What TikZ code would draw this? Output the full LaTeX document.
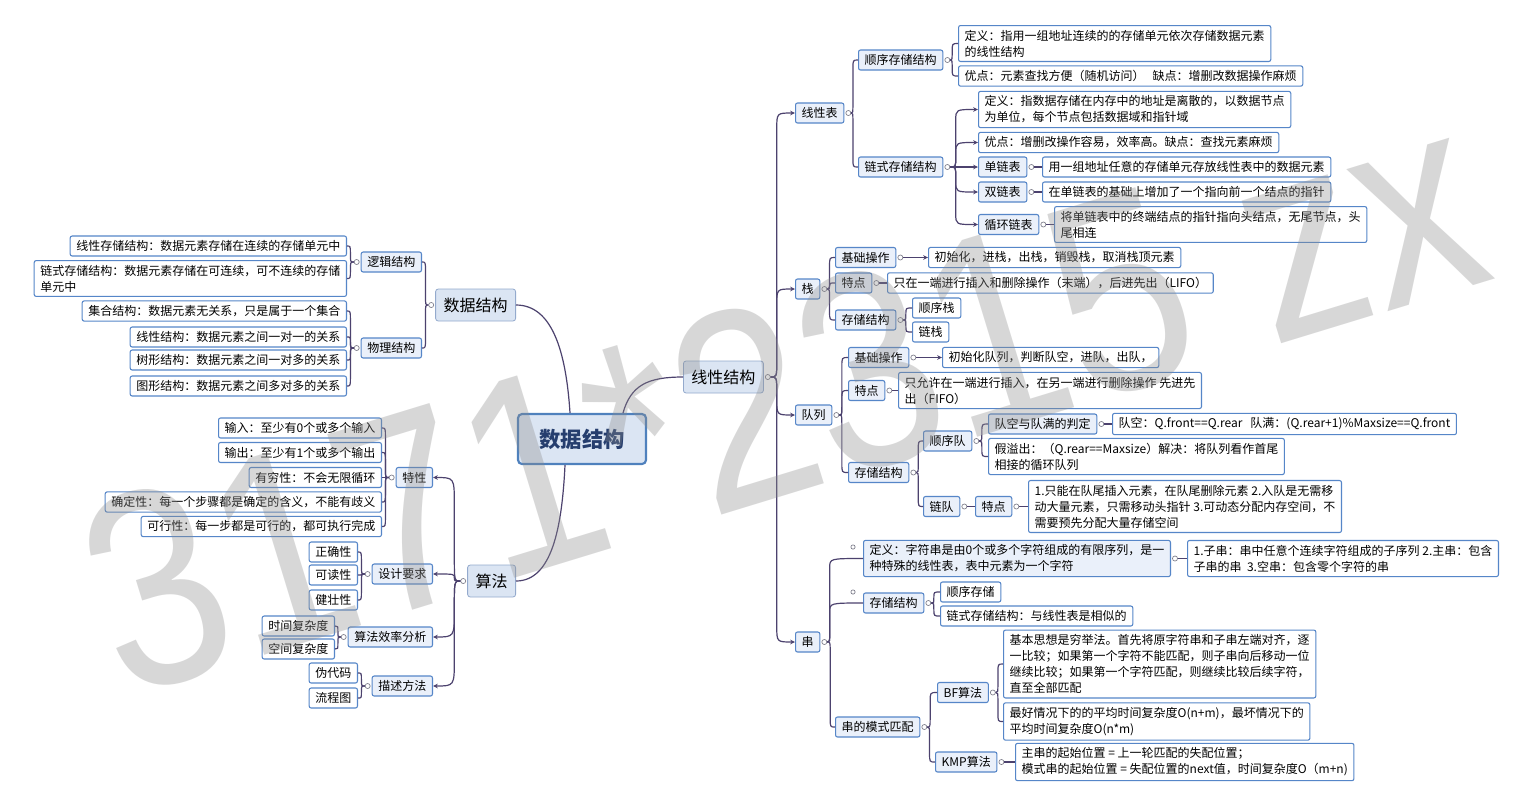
\documentclass[tikz,border=0pt]{standalone}
\usepackage{fontspec}
\setmainfont{Noto Sans CJK SC}
\newfontfamily\wmfont{Liberation Sans}
\usepackage{xcolor}
\usepackage{tikz}
\usetikzlibrary{arrows.meta,calc,positioning}

\definecolor{linecol}{RGB}{76,66,110}
\definecolor{boxline}{RGB}{86,134,200}
\definecolor{subfill}{RGB}{234,240,250}
\definecolor{majfill}{RGB}{219,229,243}
\definecolor{majline}{RGB}{148,170,205}
\definecolor{rootline}{RGB}{79,129,189}
\definecolor{roottext}{RGB}{38,62,110}
\definecolor{dotline}{RGB}{125,125,138}

\tikzset{
  root/.style={draw=rootline, line width=1.6pt, fill=majfill, rounded corners=3pt,
    text=roottext, font=\fontsize{16}{19}\selectfont\bfseries,
    minimum width=96pt, minimum height=37.5pt},
  major/.style={draw=majline, line width=0.6pt, fill=majfill, rounded corners=2pt,
    font=\fontsize{12}{14}\selectfont, inner xsep=6pt, minimum height=24pt},
  topic/.style={draw=boxline, line width=0.8pt, fill=subfill, rounded corners=1.5pt,
    font=\fontsize{9}{12}\selectfont, inner xsep=4.6pt, inner ysep=3.3pt,
    minimum height=15pt, align=left},
  leaf/.style={topic, fill=white},
  dot/.style={circle, draw=dotline, fill=white, line width=0.5pt, inner sep=0pt, minimum size=3.8pt},
  markdot/.style={dot, minimum size=3.2pt},
  link/.style={draw=linecol, line width=0.9pt},
  tip/.style={-{Stealth[length=3.6pt,width=3.4pt]}},
  elbow/.style n args={2}{to path={let \p1=(\tikztostart), \p2=(\tikztotarget),
    \p3=($(\tikztostart)!#1!(\tikztotarget)$),
    \n1={min(#2,abs(\y2-\y1)/2)*sign(\y2-\y1)} in
    (\p1) .. controls (\x3,\y1) .. (\x3,{\y1+\n1}) -- (\x3,{\y2-\n1})
    .. controls (\x3,\y2) .. (\p2)}},
  fork/.style={link, elbow={#1}{7}},
  fork/.default=0.3,
  spine/.style={link, elbow={#1}{12}, tip},
  spine/.default=0.25,
  wm/.style={font=\wmfont\fontsize{210}{210}\selectfont, text=black!45, opacity=0.34, inner sep=0pt}
}

\newcommand{\dotR}[1]{\node[dot] (c-#1) at ($(#1.east)+(4,0)$) {};}
\newcommand{\dotL}[1]{\node[dot] (c-#1) at ($(#1.west)+(-4,0)$) {};}

\begin{document}
\begin{tikzpicture}[x=0.75pt,y=-0.75pt]
\useasboundingbox (0,0) rectangle (1523,794);
\fill[white] (0,0) rectangle (1523,794);

% centre and main branches
\node[root] (root) at (582,439) {数据结构};
\node[major, anchor=east] (ds) at (516,305) {数据结构};
\node[major, anchor=west] (lin) at (683,377) {线性结构};
\node[major, anchor=east] (alg) at (516,581) {算法};

% left: 数据结构
\node[topic, anchor=east] (lg) at (422,262) {逻辑结构};
\node[topic, anchor=east] (ph) at (422,348) {物理结构};
\node[leaf, anchor=east] (l1) at (347,246) {线性存储结构：数据元素存储在连续的存储单元中};
\node[leaf, anchor=east] (l2) at (347,278.5) {链式存储结构：数据元素存储在可连续，可不连续的存储\\单元中};
\node[leaf, anchor=east] (p1) at (347,311) {集合结构：数据元素无关系，只是属于一个集合};
\node[leaf, anchor=east] (p2) at (347,337) {线性结构：数据元素之间一对一的关系};
\node[leaf, anchor=east] (p3) at (347,360) {树形结构：数据元素之间一对多的关系};
\node[leaf, anchor=east] (p4) at (347,386) {图形结构：数据元素之间多对多的关系};

% left: 算法
\node[topic, anchor=east] (tx) at (433,477.5) {特性};
\node[topic, anchor=east] (sj) at (433,574) {设计要求};
\node[topic, anchor=east] (xl) at (433,637) {算法效率分析};
\node[topic, anchor=east] (ms) at (433,686) {描述方法};
\node[leaf, anchor=east] (a1) at (382,428) {输入：至少有0个或多个输入};
\node[leaf, anchor=east] (a2) at (382,452.5) {输出：至少有1个或多个输出};
\node[leaf, anchor=east] (a3) at (382,477.5) {有穷性：不会无限循环};
\node[leaf, anchor=east] (a4) at (382,502) {确定性：每一个步骤都是确定的含义，不能有歧义};
\node[leaf, anchor=east] (a5) at (382,526.5) {可行性：每一步都是可行的，都可执行完成};
\node[leaf, anchor=east] (b1) at (358,552) {正确性};
\node[leaf, anchor=east] (b2) at (358,575) {可读性};
\node[leaf, anchor=east] (b3) at (358,600) {健壮性};
\node[leaf, anchor=east] (c1) at (335,626) {时间复杂度};
\node[leaf, anchor=east] (c2) at (335,649) {空间复杂度};
\node[leaf, anchor=east] (d1) at (358,673) {伪代码};
\node[leaf, anchor=east] (d2) at (358,698) {流程图};

% right: 线性表
\node[topic, anchor=west] (xb) at (795,113) {线性表};
\node[topic, anchor=west] (sx) at (858,60) {顺序存储结构};
\node[leaf, anchor=west] (sx1) at (958,43.5) {定义：指用一组地址连续的的存储单元依次存储数据元素\\的线性结构};
\node[leaf, anchor=west] (sx2) at (958,76) {优点：元素查找方便（随机访问）\hspace{6pt}缺点：增删改数据操作麻烦};
\node[topic, anchor=west] (ls) at (858,167) {链式存储结构};
\node[leaf, anchor=west] (ls1) at (978,109.5) {定义：指数据存储在内存中的地址是离散的，以数据节点\\为单位，每个节点包括数据域和指针域};
\node[leaf, anchor=west] (ls2) at (978,142.5) {优点：增删改操作容易，效率高。缺点：查找元素麻烦};
\node[topic, anchor=west] (dl) at (978,167) {单链表};
\node[leaf, anchor=west] (dl1) at (1042,167) {用一组地址任意的存储单元存放线性表中的数据元素};
\node[topic, anchor=west] (sl) at (978,192) {双链表};
\node[leaf, anchor=west] (sl1) at (1042,192) {在单链表的基础上增加了一个指向前一个结点的指针};
\node[topic, anchor=west] (xh) at (978,224.5) {循环链表};
\node[leaf, anchor=west] (xh1) at (1054,224.5) {将单链表中的终端结点的指针指向头结点，无尾节点，头\\尾相连};

% right: 栈
\node[topic, anchor=west] (zh) at (795,289) {栈};
\node[topic, anchor=west] (zj) at (835,257.5) {基础操作};
\node[leaf, anchor=west] (zj1) at (928,257.5) {初始化，进栈，出栈，销毁栈，取消栈顶元素};
\node[topic, anchor=west] (zt) at (835,283) {特点};
\node[leaf, anchor=west] (zt1) at (887,283) {只在一端进行插入和删除操作（末端），后进先出（LIFO）};
\node[topic, anchor=west] (zc) at (835,320) {存储结构};
\node[leaf, anchor=west] (zc1) at (912,308) {顺序栈};
\node[leaf, anchor=west] (zc2) at (912,332) {链栈};

% right: 队列
\node[topic, anchor=west] (dq) at (795,415) {队列};
\node[topic, anchor=west] (qj) at (848,357.5) {基础操作};
\node[leaf, anchor=west] (qj1) at (942,357.5) {初始化队列，判断队空，进队，出队，};
\node[topic, anchor=west] (qt) at (848,390.5) {特点};
\node[leaf, anchor=west] (qt1) at (898,390.5) {只允许在一端进行插入，在另一端进行删除操作 先进先\\出（FIFO）};
\node[topic, anchor=west] (qc) at (848,472.5) {存储结构};
\node[topic, anchor=west] (sq) at (923,441) {顺序队};
\node[topic, anchor=west] (sq1) at (988,424) {队空与队满的判定};
\node[leaf, anchor=west] (sq11) at (1112,424) {队空：Q.front==Q.rear\ \ \ 队满：(Q.rear+1)\%Maxsize==Q.front};
\node[leaf, anchor=west] (sq2) at (988,456.5) {假溢出：（Q.rear==Maxsize）解决：将队列看作首尾\\相接的循环队列};
\node[topic, anchor=west] (lq) at (923,506.5) {链队};
\node[topic, anchor=west] (lqt) at (975,506.5) {特点};
\node[leaf, anchor=west] (lqt1) at (1028,506.5) {1.只能在队尾插入元素，在队尾删除元素 2.入队是无需移\\动大量元素，只需移动头指针 3.可动态分配内存空间，不\\需要预先分配大量存储空间};

% right: 串
\node[topic, anchor=west] (ch) at (795,642) {串};
\node[topic, anchor=west] (cd) at (863,558.5) {定义：字符串是由0个或多个字符组成的有限序列，是一\\种特殊的线性表，表中元素为一个字符};
\node[leaf, anchor=west] (cd1) at (1187,558.5) {1.子串：串中任意个连续字符组成的子序列 2.主串：包含\\子串的串\ \ 3.空串：包含零个字符的串};
\node[topic, anchor=west] (cc) at (863,603) {存储结构};
\node[leaf, anchor=west] (cc1) at (940,592) {顺序存储};
\node[leaf, anchor=west] (cc2) at (940,616) {链式存储结构：与线性表是相似的};
\node[topic, anchor=west] (cm) at (835,727) {串的模式匹配};
\node[topic, anchor=west] (bf) at (937,692.5) {BF算法};
\node[leaf, anchor=west] (bf1) at (1003,664) {基本思想是穷举法。首先将原字符串和子串左端对齐，逐\\一比较；如果第一个字符不能匹配，则子串向后移动一位\\继续比较；如果第一个字符匹配，则继续比较后续字符，\\直至全部匹配};
\node[leaf, anchor=west] (bf2) at (1003,721.5) {最好情况下的的平均时间复杂度O(n+m)，最坏情况下的\\平均时间复杂度O(n*m)};
\node[topic, anchor=west] (kmp) at (935,762) {KMP算法};
\node[leaf, anchor=west] (kmp1) at (1015,762) {主串的起始位置 = 上一轮匹配的失配位置；\\模式串的起始位置 = 失配位置的next值，时间复杂度O（m+n)};
\node[markdot] (mk1) at (853,547) {};
\node[markdot] (mk2) at (853,592) {};

% collapse dots
\dotL{ds} \dotR{lin} \dotL{alg}
\dotL{lg} \dotL{ph} \dotL{tx} \dotL{sj} \dotL{xl} \dotL{ms}
\dotR{xb} \dotR{sx} \dotR{ls} \dotR{dl} \dotR{sl} \dotR{xh}
\dotR{zh} \dotR{zj} \dotR{zt} \dotR{zc}
\dotR{dq} \dotR{qj} \dotR{qt} \dotR{qc} \dotR{sq} \dotR{sq1} \dotR{lq} \dotR{lqt}
\dotR{ch} \dotR{cd} \dotR{cc} \dotR{cm} \dotR{bf} \dotR{kmp}

% centre to main branches
\draw[link] ($(root.north)+(41,0)$) .. controls +(8,-28) and +(-35,0) .. (lin.west);
\draw[link] ($(root.north)+(-12,0)$) .. controls +(-4,-62) and +(36,0) .. (ds.east);
\draw[link] ($(root.south)+(-17,0)$) .. controls +(-3,62) and +(36,0) .. (alg.east);

% left side
\path (c-ds.west) edge[fork=0.45] (lg.east) edge[fork=0.45] (ph.east);
\path (c-lg.west) edge[fork=0.5] (l1.east) edge[fork=0.5] (l2.east);
\path (c-ph.west) edge[fork=0.5] (p1.east) edge[fork=0.5] (p2.east)
  edge[fork=0.5] (p3.east) edge[fork=0.5] (p4.east);
\path (c-alg.west) edge[link, elbow={0.22}{20}, tip] (tx.east)
  edge[link, elbow={0.22}{20}, tip] (sj.east)
  edge[link, elbow={0.22}{20}, tip] (xl.east)
  edge[link, elbow={0.22}{20}, tip] (ms.east);
\path (c-tx.west) edge[fork=0.5] (a1.east) edge[fork=0.5] (a2.east)
  edge[fork=0.5] (a3.east) edge[fork=0.5] (a4.east) edge[fork=0.5] (a5.east);
\path (c-sj.west) edge[fork=0.5] (b1.east) edge[fork=0.5] (b2.east) edge[fork=0.5] (b3.east);
\path (c-xl.west) edge[fork=0.5] (c1.east) edge[fork=0.5] (c2.east);
\path (c-ms.west) edge[fork=0.5] (d1.east) edge[fork=0.5] (d2.east);

% right side
\path (c-lin.east) edge[spine] (xb.west) edge[spine] (zh.west)
  edge[spine] (dq.west) edge[spine] (ch.west);
\path (c-xb.east) edge[fork=0.25] (sx.west) edge[fork=0.25] (ls.west);
\path (c-sx.east) edge[fork=0.25] (sx1.west) edge[fork=0.25] (sx2.west);
\path (c-ls.east) edge[link, elbow={0.2}{8}, tip] (ls1.west)
  edge[link, elbow={0.2}{8}, tip] (ls2.west)
  edge[link, tip] (dl.west)
  edge[link, elbow={0.2}{8}, tip] (sl.west)
  edge[link, elbow={0.2}{8}, tip] (xh.west);
\draw[link] (c-dl.east) -- (dl1.west);
\draw[link] (c-sl.east) -- (sl1.west);
\draw[link] (c-xh.east) -- (xh1.west);

\path (c-zh.east) edge[fork] (zj.west) edge[fork] (zt.west) edge[fork] (zc.west);
\draw[link, tip] (c-zj.east) -- (zj1.west);
\draw[link] (c-zt.east) -- (zt1.west);
\path (c-zc.east) edge[fork] (zc1.west) edge[fork] (zc2.west);

\path (c-dq.east) edge[fork] (qj.west) edge[fork] (qt.west) edge[fork] (qc.west);
\draw[link, tip] (c-qj.east) -- (qj1.west);
\draw[link] (c-qt.east) -- (qt1.west);
\path (c-qc.east) edge[fork] (sq.west) edge[fork] (lq.west);
\path (c-sq.east) edge[fork] (sq1.west) edge[fork] (sq2.west);
\draw[link] (c-sq1.east) -- (sq11.west);
\draw[link] (c-lq.east) -- (lqt.west);
\draw[link] (c-lqt.east) -- (lqt1.west);

\path (c-ch.east) edge[fork=0.07] (cd.west) edge[fork=0.07] (cc.west) edge[fork=0.38] (cm.west);
\draw[link] (c-cd.east) -- (cd1.west);
\path (c-cc.east) edge[fork] (cc1.west) edge[fork] (cc2.west);
\path (c-cm.east) edge[fork] (bf.west) edge[fork] (kmp.west);
\path (c-bf.east) edge[fork] (bf1.west) edge[fork] (bf2.west);
\draw[link] (c-kmp.east) -- (kmp1.west);

% watermark
\node[wm, rotate=17, xscale=0.84] (wm) at (782,396) {3171*2315 zx};
\end{tikzpicture}
\end{document}
